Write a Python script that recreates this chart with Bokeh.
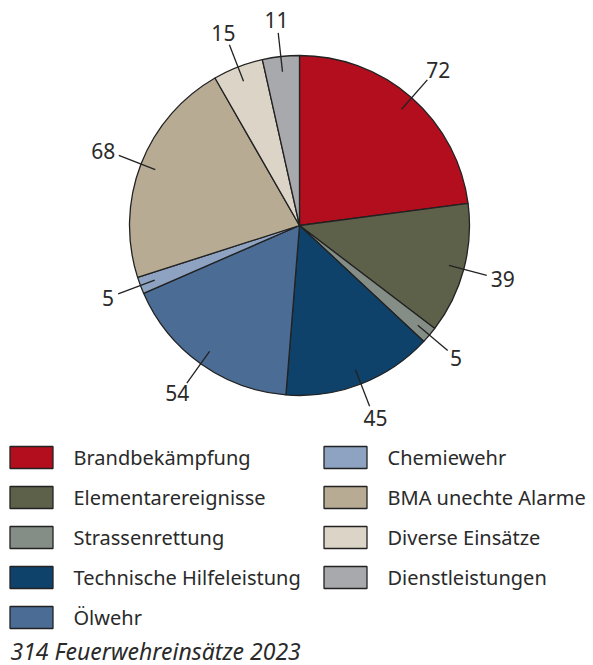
import numpy as np
from bokeh.plotting import figure
from bokeh.models import Range1d
from bokeh.core.properties import value
from bokeh.embed import file_html
from bokeh.resources import INLINE

categories = ["Brandbekämpfung", "Elementarereignisse", "Strassenrettung",
              "Technische Hilfeleistung", "Ölwehr", "Chemiewehr",
              "BMA unechte Alarme", "Diverse Einsätze", "Dienstleistungen"]
counts = [72, 39, 5, 45, 54, 5, 68, 15, 11]
colors = ["#B30E1E", "#5E614A", "#858E86", "#0F426A", "#4B6C95",
          "#8DA3C1", "#B7AB94", "#DBD4C7", "#A8A9AD"]
caption = "314 Feuerwehreinsätze 2023"

W, H = 593, 665
p = figure(width=W, height=H, output_backend="svg", toolbar_location=None,
           x_range=Range1d(0, W), y_range=Range1d(-H, 0),
           min_border=0)
p.axis.visible = False
p.grid.visible = False
p.outline_line_color = None
p.background_fill_color = "white"

FONT = "Noto Sans"
TXT = "#2a2a2a"

cx, cy, R = 299, -225, 170
total = sum(counts)
cum = np.concatenate([[0], np.cumsum(counts)])
start = np.pi / 2 - 2 * np.pi * cum[:-1] / total
end = np.pi / 2 - 2 * np.pi * cum[1:] / total
p.wedge(x=cx, y=cy, radius=R, start_angle=start, end_angle=end,
        direction="clock", fill_color=colors, line_color="#222222",
        line_width=1.3)

mid = (start + end) / 2
dx, dy = np.cos(mid), np.sin(mid)
r1, r2, gap = 0.91 * R, 1.14 * R, 5
x0 = cx + r1 * dx; y0 = cy + r1 * dy
x1 = cx + r2 * dx; y1 = cy + r2 * dy
p.segment(x0=x0, y0=y0, x1=x1, y1=y1, line_color="#222222", line_width=1.3)
labels = [str(c) for c in counts]
half_w = np.array([len(s) * 5.8 for s in labels])
half_h = 7.5
lx = x1 + gap * dx + half_w * dx
ly = y1 + gap * dy + half_h * dy
p.text(x=lx, y=ly, text=labels, text_align="center",
       text_baseline="middle", text_font=value(FONT), text_font_size="21px",
       text_color=TXT)

# legend
col_x = [31, 345]
text_x = [73, 387]
row_y0, row_dy = 457, 40
lxs, lys, txs = [], [], []
for i in range(len(categories)):
    col = 0 if i < 5 else 1
    row = i if i < 5 else i - 5
    lxs.append(col_x[col]); lys.append(-(row_y0 + row * row_dy))
    txs.append(text_x[col])
p.rect(x=lxs, y=lys, width=43, height=22, fill_color=colors,
       line_color="#222222", line_width=1.3)
p.text(x=txs, y=lys, text=categories, text_align="left",
       text_baseline="middle", text_font=value(FONT), text_font_size="20px",
       text_color=TXT)

p.text(x=[10], y=[-650], text=[caption], text_align="left",
       text_baseline="middle", text_font=value(FONT), text_font_size="23px",
       text_font_style="italic", text_color=TXT)

open("out.html", "w").write(file_html(p, INLINE))
